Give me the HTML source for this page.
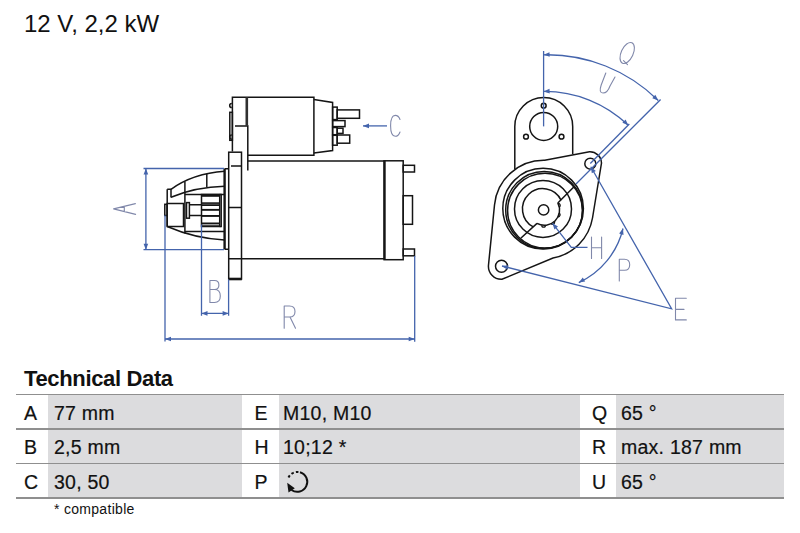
<!DOCTYPE html>
<html><head><meta charset="utf-8">
<style>
html,body{margin:0;padding:0;background:#fff;}
body{width:800px;height:533px;position:relative;overflow:hidden;font-family:"Liberation Sans",sans-serif;color:#111;}
.t{position:absolute;white-space:nowrap;}
#title{left:24px;top:10px;font-size:24px;}
#th{left:24px;top:366px;font-size:22px;font-weight:bold;letter-spacing:-0.35px;}
svg{position:absolute;left:0;top:0;}
.row{position:absolute;left:16px;width:768px;height:34.5px;}
.g{position:absolute;top:0;height:100%;background:#dcdcde;}
.ln{position:absolute;left:16px;width:768px;height:1.6px;background:#8f8f8f;}
.c{position:absolute;font-size:19.5px;white-space:nowrap;letter-spacing:0.25px;-webkit-text-stroke:0.2px #111;}
#foot{left:54px;top:501px;font-size:14px;letter-spacing:0.3px;}
</style></head><body>
<div class="t" id="title">12 V, 2,2 kW</div>
<svg width="800" height="533" viewBox="0 0 800 533">
<g stroke="#151515" stroke-width="1.5" fill="none" stroke-linejoin="miter">
<path d="M232.4,151.5 V97.2 H313.9 V155.3 H247.8"/>
<path d="M313.9,99.6 L332.6,102.5 V150.5 L313.9,153"/>
<path d="M235,125.9 H247.8 V170.5"/>
<path d="M231.8,103.4 a2.1,2.1 0 0 0 0,4.2"/>
<rect x="229.8" y="112.3" width="2.6" height="28"/>
<path d="M231.8,135 a2.1,2.1 0 0 0 0,4.2"/>
<rect x="332.6" y="107.1" width="4.6" height="12.5"/>
<rect x="337.2" y="109.9" width="22.3" height="8.4"/>
<rect x="332.6" y="120.6" width="12.4" height="6.0"/>
<rect x="332.6" y="127.5" width="4.6" height="7.2"/>
<rect x="337.2" y="128.2" width="5.8" height="5.2"/>
<rect x="332.6" y="135.3" width="4.6" height="9.9"/>
<rect x="337.2" y="135.0" width="12.5" height="8.2"/>
<path d="M247.8,161 H384.1"/>
<path d="M229,258.8 H384.1"/>
<rect x="384.1" y="160.8" width="19.1" height="98.9"/>
<path d="M384.6,160.8 V259.7" stroke-width="2.2"/>
<rect x="403.2" y="165.3" width="11.3" height="6.7"/>
<rect x="403.2" y="195.7" width="9.3" height="28.6"/>
<rect x="403.2" y="249" width="11.3" height="6.8"/>
<rect x="228.7" y="152.2" width="12.8" height="126.8"/>
<path d="M231,166.1 H241.8 M229,207.6 H241.8"/>
<path d="M228.7,279 H241.8" stroke-width="2.6"/>
<path d="M224.6,168.7 V249.2" stroke-width="2.4"/>
<path d="M224.6,168.7 H228.7 M224.6,249.2 H228.7"/>
<path d="M167.2,189.3 H171 V197.5"/>
<path d="M167.2,189.3 V226.5"/>
<path d="M171,189.3 Q193,173.5 224.6,171.3"/>
<path d="M171,197.2 Q196,187 224.6,186.3"/>
<path d="M184.9,181.5 V233.5"/>
<path d="M206.8,173.8 V187"/>
<path d="M184.9,194.5 H224.6"/>
<path d="M184.9,231.6 H224.6"/>
<path d="M167.2,226.5 Q195,238.5 224.6,240"/>
<rect x="167.2" y="203.5" width="16.3" height="23"/>
<rect x="164.8" y="204.3" width="2.4" height="11.2"/>
<rect x="186.5" y="202.6" width="2.9" height="15.6"/>
<path d="M189.4,204.8 H201.5 M189.4,215.5 H201.5"/>
<rect x="201.5" y="194.5" width="18.2" height="32"/>
<path d="M219.7,194.5 H221.2 V226.5 H219.7"/>
</g>
<rect x="201.5" y="195.0" width="18.2" height="1.8" fill="#151515"/>
<rect x="201.5" y="202.3" width="18.2" height="1.6" fill="#151515"/>
<rect x="201.5" y="204.2" width="18.2" height="1.8" fill="#151515"/>
<rect x="201.5" y="208.9" width="18.2" height="1.9" fill="#151515"/>
<rect x="201.5" y="215.0" width="18.2" height="1.9" fill="#151515"/>
<rect x="201.5" y="222.5" width="18.2" height="1.9" fill="#151515"/>
<rect x="201.5" y="225.3" width="18.2" height="1.4" fill="#151515"/>
<rect x="245.5" y="97.2" width="2.6" height="28.7" fill="#303030"/>
<g stroke="#4464ac" stroke-width="1.3" fill="none">
<path d="M143.5,168.5 H224 M143.5,249.7 H224 M145.9,168.5 V249.7"/>
<path d="M201.5,224.6 V315.7 M228.6,279.5 V315.7 M201.5,313.4 H228.6"/>
<path d="M165,215.3 V341.4 M414.7,256 V341.7 M165,339 H414.7"/>
<path d="M363,125.9 H387"/>
</g>
<path d="M145.9,168.5 L148.2,174.5 L143.6,174.5 Z" fill="#4464ac" stroke="none"/>
<path d="M145.9,249.7 L143.6,243.7 L148.2,243.7 Z" fill="#4464ac" stroke="none"/>
<path d="M201.5,313.4 L207.5,311.1 L207.5,315.7 Z" fill="#4464ac" stroke="none"/>
<path d="M228.6,313.4 L222.6,315.7 L222.6,311.1 Z" fill="#4464ac" stroke="none"/>
<path d="M165.0,339.0 L171.0,336.7 L171.0,341.3 Z" fill="#4464ac" stroke="none"/>
<path d="M414.7,339.0 L408.7,341.3 L408.7,336.7 Z" fill="#4464ac" stroke="none"/>
<path d="M363.0,125.9 L369.0,123.6 L369.0,128.2 Z" fill="#4464ac" stroke="none"/>
<g stroke="#151515" stroke-width="1.5" fill="none">
<path d="M514.8,169.2 V126.4 A28.9,28.9 0 0 1 572.7,126.4 V154.3"/>
<circle cx="543.7" cy="126.4" r="14"/>
<circle cx="543.7" cy="105.7" r="2.4"/>
<circle cx="526" cy="136.7" r="2.4"/>
<circle cx="561.5" cy="136.7" r="2.4"/>
<path d="M544.7,160.3 L589.5,151.7 A11.6,11.6 0 0 1 601.5,163 L592.5,218 A49,49 0 0 1 553,258 L502,279.3 A13,13 0 0 1 488.5,265 L494.5,205 A49.5,49.5 0 0 1 544.7,160.3 Z"/>
<circle cx="590.3" cy="163.7" r="5.5"/>
<circle cx="501.5" cy="266.2" r="6"/>
<circle cx="543.1" cy="208.6" r="40.3"/>
<circle cx="544.2" cy="210" r="38.5"/>
<circle cx="545" cy="210.6" r="37.4"/>
<circle cx="543" cy="208.9" r="28.5"/>
<circle cx="543.6" cy="209.9" r="5.2"/>
<path d="M561.1,200.2 A20.3,20.3 0 1 0 533.3,226.9"/>
<path d="M521,238 L537,223.4 M557.8,203 L574.3,186.5"/>
<path d="M537,223.4 A15.2,15.2 0 0 0 557.8,203"/>
</g>
<path d="M541.70,225.20 A1.9,1.9 0 0 0 545.50,225.20" fill="none" stroke="#151515" stroke-width="1.3"/>
<path d="M551.11,223.38 A1.9,1.9 0 0 0 554.19,221.14" fill="none" stroke="#151515" stroke-width="1.3"/>
<path d="M557.54,216.61 A1.9,1.9 0 0 0 558.78,213.02" fill="none" stroke="#151515" stroke-width="1.3"/>
<path d="M558.88,207.11 A1.9,1.9 0 0 0 557.77,203.48" fill="none" stroke="#151515" stroke-width="1.3"/>
<g stroke="#4464ac" stroke-width="1.3" fill="none">
<path d="M543.6,51 V126.4"/>
<path d="M543.6,54.8 A158,158 0 0 1 658.3,100.5"/>
<path d="M543.6,91.4 A121,121 0 0 1 628.3,125.3"/>
<path d="M590.3,163.5 L629.3,124"/>
<path d="M576,184 L660.6,99.5"/>
<path d="M590.8,166.8 L671.6,308.8 L502,266"/>
<path d="M623,228.5 A80,80 0 0 1 578.8,282.6"/>
<path d="M552.5,223.3 L571.3,247.3 H587.5"/>
</g>
<path d="M543.6,54.8 L549.5,52.2 L549.7,56.8 Z" fill="#4464ac" stroke="none"/>
<path d="M658.3,100.5 L652.3,98.3 L655.3,94.8 Z" fill="#4464ac" stroke="none"/>
<path d="M543.6,91.4 L549.5,88.8 L549.7,93.4 Z" fill="#4464ac" stroke="none"/>
<path d="M628.3,125.3 L622.4,122.8 L625.6,119.5 Z" fill="#4464ac" stroke="none"/>
<path d="M590.8,166.8 L595.8,170.9 L591.8,173.2 Z" fill="#4464ac" stroke="none"/>
<path d="M502.0,266.0 L508.4,265.2 L507.3,269.7 Z" fill="#4464ac" stroke="none"/>
<path d="M623.0,228.5 L623.5,234.9 L619.1,233.6 Z" fill="#4464ac" stroke="none"/>
<path d="M578.8,282.6 L582.8,277.6 L585.1,281.5 Z" fill="#4464ac" stroke="none"/>
<path d="M552.5,223.3 L558.0,226.6 L554.4,229.4 Z" fill="#4464ac" stroke="none"/>
<g stroke="#8088aa" stroke-width="1.1" fill="none" stroke-linecap="round" stroke-linejoin="round">
<path d="M135.4,203.6 L113.6,208.9 L135.6,214.4 M124.3,206.3 V211.4"/>
<path d="M209.9,302.5 V280.5 H214.5 Q218.9,280.5 218.9,285 Q218.9,289.5 214.5,289.5 H209.9 M214.5,289.5 Q220.3,289.5 220.3,296 Q220.3,302.5 214.5,302.5 H209.9"/>
<path d="M284.2,328.3 V306 H289.5 Q295,306 295,311.5 Q295,317 289.5,317 H284.2 M290,317 L295.5,328.3"/>
<path d="M400,119.5 Q398.5,115.4 395.3,115.4 Q390.6,115.4 390.6,125.8 Q390.6,136.3 395.3,136.3 Q398.5,136.3 400,132"/>
<path d="M591.5,237.1 V258.5 M601.6,237.1 V258.5 M591.5,247.8 H601.6"/>
<path d="M619.3,280.9 V259.2 H624.5 Q629.7,259.2 629.7,264.7 Q629.7,270.2 624.5,270.2 H619.3"/>
<path d="M686.3,298.2 H675.5 V319.9 H686.3 M675.5,309.4 H684"/>
<ellipse cx="627.2" cy="53" rx="6" ry="11.2" transform="rotate(25 627.2 53)"/>
<path d="M623.5,60.6 L627.5,64.6"/>
<path d="M605.8,73 L601.2,85 Q598.5,93 603,93 Q607.5,93 610,86 L615,77"/>
</g>
</svg>
<div class="t" id="th">Technical Data</div>
<div class="row" style="top:394.4px"><div class="g" style="left:32px;width:194px"></div><div class="g" style="left:263px;width:301px"></div><div class="g" style="left:600px;width:168px"></div></div><div class="row" style="top:428.9px"><div class="g" style="left:32px;width:194px"></div><div class="g" style="left:263px;width:301px"></div><div class="g" style="left:600px;width:168px"></div></div><div class="row" style="top:463.5px"><div class="g" style="left:32px;width:194px"></div><div class="g" style="left:263px;width:301px"></div><div class="g" style="left:600px;width:168px"></div></div><div class="ln" style="top:393.59999999999997px"></div><div class="ln" style="top:428.09999999999997px"></div><div class="ln" style="top:462.7px"></div><div class="ln" style="top:497.2px"></div><div class="c" style="left:24px;top:401.7px">A</div><div class="c" style="left:54px;top:401.7px">77 mm</div><div class="c" style="left:254.5px;top:401.7px">E</div><div class="c" style="left:283px;top:401.7px">M10, M10</div><div class="c" style="left:592px;top:401.7px">Q</div><div class="c" style="left:621px;top:401.7px">65 °</div><div class="c" style="left:24px;top:436.2px">B</div><div class="c" style="left:54px;top:436.2px">2,5 mm</div><div class="c" style="left:254.5px;top:436.2px">H</div><div class="c" style="left:283px;top:436.2px">10;12 *</div><div class="c" style="left:592px;top:436.2px">R</div><div class="c" style="left:621px;top:436.2px">max. 187 mm</div><div class="c" style="left:24px;top:470.8px">C</div><div class="c" style="left:54px;top:470.8px">30, 50</div><div class="c" style="left:254.5px;top:470.8px">P</div><div class="c" style="left:592px;top:470.8px">U</div><div class="c" style="left:621px;top:470.8px">65 °</div><svg width="800" height="533" style="position:absolute;left:0;top:0">
<path d="M300,472.2 A10,10 0 1 1 291.5,490" fill="none" stroke="#111" stroke-width="2"/>
<path d="M288.5,477.5 A10,10 0 0 1 300,472.2" fill="none" stroke="#111" stroke-width="2" stroke-dasharray="2.5 2.2"/>
<path d="M287.2,482.7 L288.5,492.6 L294.8,488.3 Z" fill="#111"/>
</svg><div class="t" id="foot">* compatible</div></body></html>
